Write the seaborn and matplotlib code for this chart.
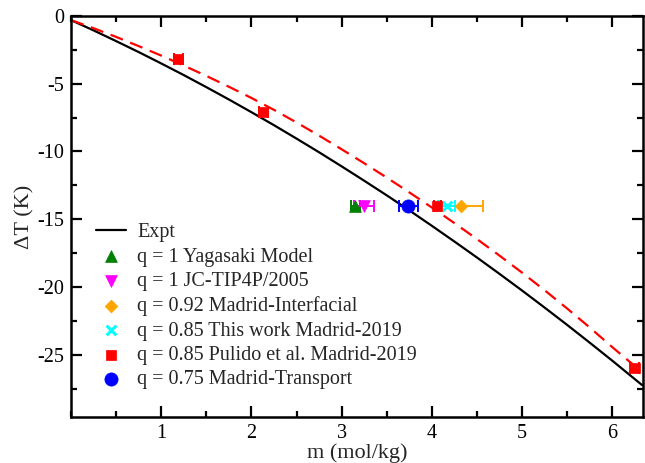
import numpy as np
import pandas as pd
import matplotlib
matplotlib.use("Agg")
import matplotlib.pyplot as plt
from matplotlib.ticker import MultipleLocator, FixedLocator
import seaborn as sns

# ---- data ----
expt_m = [0.0, 0.25, 0.5, 0.75, 1.0, 1.25, 1.5, 1.75, 2.0, 2.25, 2.5, 2.75, 3.0, 3.25, 3.5,
          3.75, 4.0, 4.25, 4.5, 4.75, 5.0, 5.25, 5.5, 5.75, 6.0, 6.33]
expt_dT = [-0.3, -1.06, -1.85, -2.66, -3.5, -4.36, -5.25, -6.16, -7.1, -8.06, -9.05, -10.06,
           -11.1, -12.16, -13.24, -14.35, -15.49, -16.65, -17.83, -19.04, -20.27, -21.53,
           -22.81, -24.12, -25.45, -27.25]

fit_m = [0.0, 0.25, 0.5, 0.75, 1.0, 1.25, 1.5, 1.75, 2.0, 2.25, 2.5, 2.75, 3.0, 3.25, 3.5,
         3.75, 4.0, 4.25, 4.5, 4.75, 5.0, 5.25, 5.5, 5.75, 6.0, 6.25]
fit_dT = [-0.3, -0.9, -1.54, -2.22, -2.92, -3.66, -4.42, -5.22, -6.05, -6.93, -7.86, -8.83,
          -9.84, -10.87, -11.93, -13.02, -14.14, -15.29, -16.47, -17.69, -18.95, -20.25,
          -21.6, -23.0, -24.45, -25.85]

series_labels = ["q = 1 Yagasaki Model", "q = 1 JC-TIP4P/2005", "q = 0.92 Madrid-Interfacial",
                 "q = 0.85 This work Madrid-2019", "q = 0.85 Pulido et al. Madrid-2019",
                 "q = 0.75 Madrid-Transport"]
yag_m, yag_dT, yag_err = [3.15], [-14.0], [0.05]
jc_m, jc_dT, jc_err = [3.25], [-14.0], [0.11]
inter_m, inter_dT, inter_err = [4.32], [-14.0], [0.25]
this_m, this_dT, this_err = [4.17], [-14.0], [0.09]
pul_m, pul_dT, pul_err = [1.19, 2.13, 4.06, 6.25], [-3.15, -7.1, -14.0, -26.0], [0.05, 0.05, 0.04, 0.05]
tra_m, tra_dT, tra_err = [3.74], [-14.0], [0.11]

x_ticks = [1, 2, 3, 4, 5, 6]
y_ticks = [0, -5, -10, -15, -20, -25]

# ---- style ----
sns.set_theme(style="ticks")
plt.rcParams["font.family"] = ["Liberation Serif", "DejaVu Serif"]
plt.rcParams["axes.unicode_minus"] = False

fig = plt.figure(figsize=(6.45, 4.63), dpi=100)
ax = fig.add_axes([0.110, 0.0994, 0.887, 0.8660])

sns.lineplot(x=expt_m, y=expt_dT, ax=ax, color="black", lw=1.6, label="Expt", zorder=2)
sns.lineplot(x=fit_m, y=fit_dT, ax=ax, color="#ff0000", lw=1.6, zorder=2)
ax.lines[-1].set_dashes([6, 3.5])

series = [
    (yag_m, yag_dT, yag_err, "#008000", "^", 8.5, series_labels[0]),
    (jc_m, jc_dT, jc_err, "#ff00ff", "v", 8.5, series_labels[1]),
    (inter_m, inter_dT, inter_err, "#ffa500", "D", 6.5, series_labels[2]),
    (this_m, this_dT, this_err, "#00ffff", "x", 7, series_labels[3]),
    (pul_m, pul_dT, pul_err, "#ff0000", "s", 6.5, series_labels[4]),
    (tra_m, tra_dT, tra_err, "#0000ff", "o", 9.5, series_labels[5]),
]
for m, dT, err, col, mk, ms, lab in series:
    ax.errorbar(m, dT, xerr=err, fmt="none", ecolor=col, elinewidth=1.4,
                capsize=4, capthick=1.4, zorder=3)
    df = pd.DataFrame({"m": m, "dT": dT})
    kw = dict(linewidths=2.2) if mk == "x" else dict(edgecolor=col, linewidth=0.5)
    sns.scatterplot(data=df, x="m", y="dT", ax=ax, color=col, marker=mk,
                    s=ms ** 2, label=lab, zorder=4, **kw)

ax.set_xlim(0, 6.34)
ax.set_ylim(-29.6, 0)
ax.xaxis.set_major_locator(FixedLocator(x_ticks))
ax.xaxis.set_minor_locator(MultipleLocator(0.5))
ax.yaxis.set_major_locator(FixedLocator(y_ticks))
ax.yaxis.set_minor_locator(MultipleLocator(2.5))
ax.tick_params(which="both", direction="in", top=True, right=True, labelsize=14.5,
               width=1.6, color="black", labelcolor="black", pad=5)
ax.tick_params(which="major", length=8)
ax.tick_params(which="minor", length=4.5)
for sp in ax.spines.values():
    sp.set_linewidth(1.8)
    sp.set_color("black")

ax.set_xlabel("m (mol/kg)", fontsize=16, labelpad=0)
ax.set_ylabel("ΔT (K)", fontsize=16, labelpad=2)

handles, labels = ax.get_legend_handles_labels()
leg = ax.legend(handles, labels, loc="upper left", bbox_to_anchor=(0.044, 0.483),
                frameon=False, fontsize=14.5, handlelength=1.5, handletextpad=0.55,
                labelspacing=0.26, borderaxespad=0, borderpad=0)

fig.savefig("out.png", dpi=100)
